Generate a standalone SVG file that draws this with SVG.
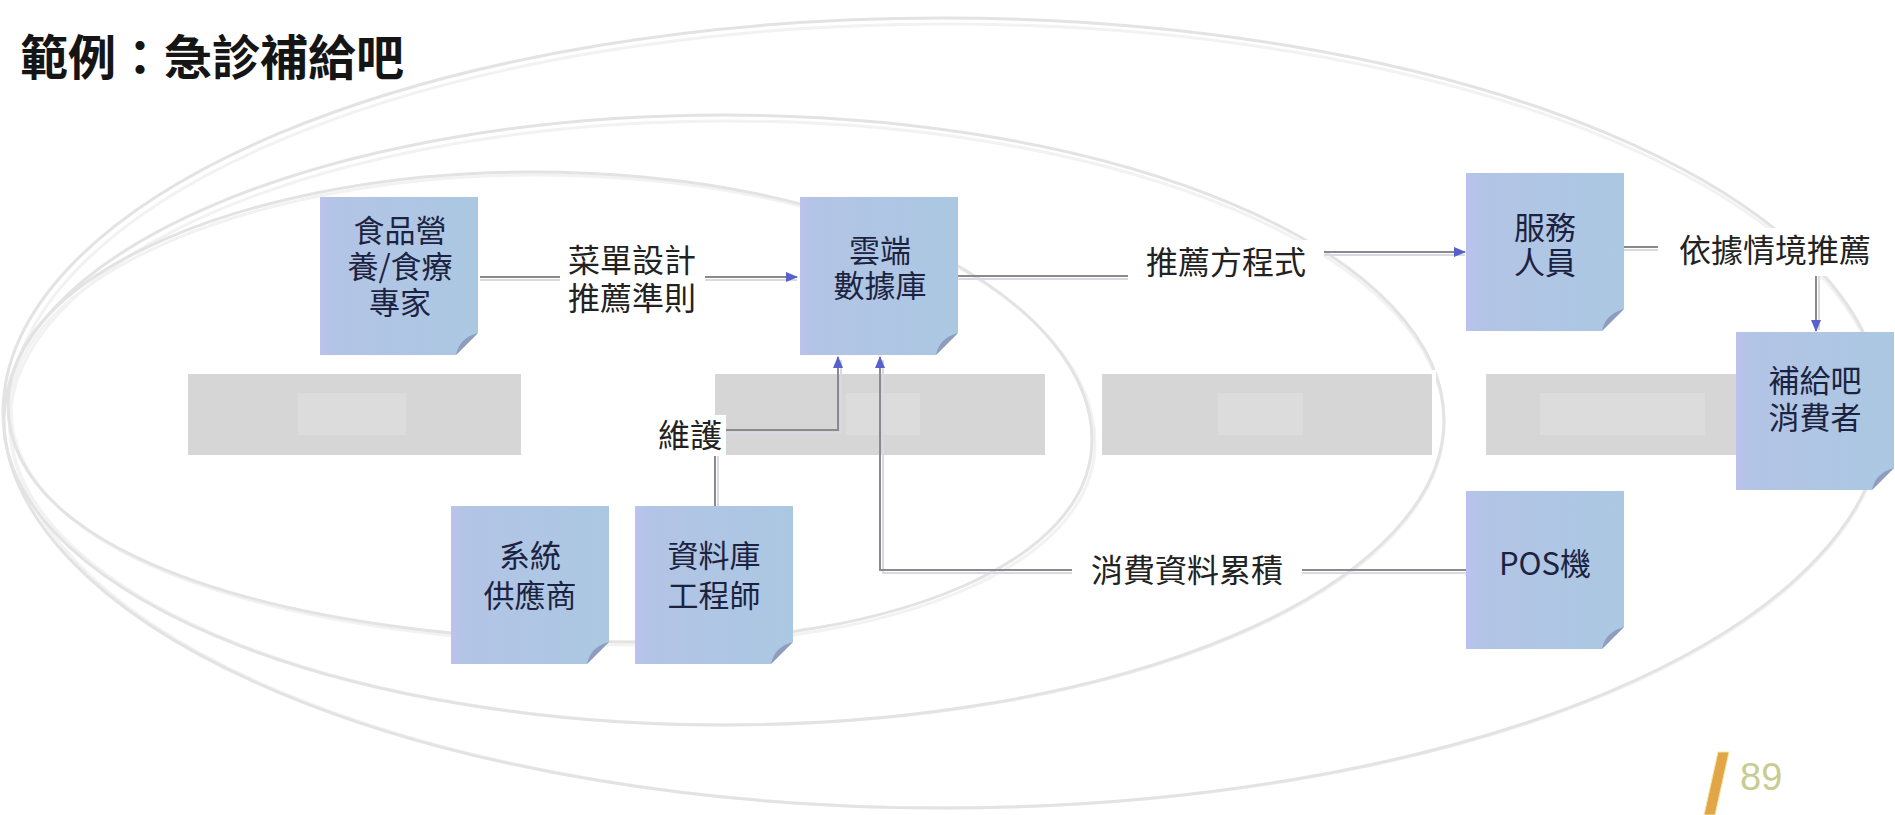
<svg xmlns="http://www.w3.org/2000/svg" width="1895" height="815" viewBox="0 0 1895 815">
<style>
.ell{fill:none;stroke:#e3e3e3;stroke-width:3}
.ellw{fill:none;stroke:#f2f2f2;stroke-width:3}
.bar{fill:#d6d6d6;stroke:#ffffff;stroke-width:4}
.barTxt{fill:#dcdcdc}
.note{fill:url(#ng)}
.fold{fill:#8f9cc0}
.bt{font-family:"Noto Sans CJK TC","Noto Sans CJK SC",sans-serif;font-size:31px;fill:#1c2340;text-anchor:middle}
.lt{font-family:"Noto Sans CJK TC","Noto Sans CJK SC",sans-serif;font-size:32px;fill:#222;text-anchor:middle}
.lbg{fill:#ffffff}
.ln{fill:none;stroke:#8a8a8a;stroke-width:2}
.lns{fill:none;stroke:#d9d9e2;stroke-width:2}
.title{font-family:"Noto Sans CJK TC","Noto Sans CJK SC",sans-serif;font-size:48px;font-weight:bold;fill:#151515}
.pg{font-family:"Liberation Sans",sans-serif;font-size:38px;fill:#c9cc92}
</style>
<defs>
<linearGradient id="ng" x1="0" y1="0" x2="1" y2="0">
<stop offset="0" stop-color="#bcc2ee"/>
<stop offset="0.08" stop-color="#b3c4e6"/>
<stop offset="1" stop-color="#abc8e2"/>
</linearGradient>
<marker id="arr" markerWidth="12" markerHeight="12" refX="11" refY="6" orient="auto" markerUnits="userSpaceOnUse">
<path d="M0,1 L12,6 L0,11 z" fill="#5860cc"/>
</marker>
</defs>
<rect width="1895" height="815" fill="#ffffff"/>

<g id="ellipses">
<ellipse class="ellw" cx="946" cy="416" rx="937" ry="392"/>
<ellipse class="ell" cx="943" cy="413" rx="940" ry="395"/>
<ellipse class="ellw" cx="727" cy="423" rx="717" ry="302"/>
<ellipse class="ell" cx="724" cy="420" rx="720" ry="305"/>
<path class="ellw" transform="translate(3,3)" d="M8,405 C8,270 260,172 530,172 C880,172 1092,310 1092,440 C1092,560 900,642 640,642 C300,642 8,560 8,405 Z"/>
<path class="ell" d="M8,405 C8,270 260,172 530,172 C880,172 1092,310 1092,440 C1092,560 900,642 640,642 C300,642 8,560 8,405 Z"/>
</g>

<g id="bars">
<rect class="bar" x="186" y="372" width="337" height="85"/>
<rect class="barTxt" x="298" y="393" width="108" height="42"/>
<rect class="bar" x="713" y="372" width="334" height="85"/>
<rect class="barTxt" x="846" y="393" width="74" height="42"/>
<rect class="bar" x="1100" y="372" width="334" height="85"/>
<rect class="barTxt" x="1218" y="393" width="85" height="42"/>
<rect class="bar" x="1484" y="372" width="270" height="85"/>
<rect class="barTxt" x="1540" y="393" width="165" height="42"/>
</g>

<g id="connectors">
<path class="lns" d="M480,280 H797"/>
<path class="ln" d="M480,277 H797" marker-end="url(#arr)"/>
<path class="lns" d="M958,279 H1229 V255 H1465"/>
<path class="ln" d="M958,276 H1226 V252 H1465" marker-end="url(#arr)"/>
<path class="lns" d="M1623,250 H1819 V330"/>
<path class="ln" d="M1623,247 H1816 V331" marker-end="url(#arr)"/>
<path class="lns" d="M718,507 V433 H841 V360"/>
<path class="ln" d="M715,507 V430 H838 V357" marker-end="url(#arr)"/>
<path class="lns" d="M1466,573 H883 V360"/>
<path class="ln" d="M1466,570 H880 V357" marker-end="url(#arr)"/>
<rect class="lbg" x="560" y="238" width="145" height="82"/>
<text class="lt" x="632" y="272">菜單設計<tspan x="632" dy="38">推薦準則</tspan></text>
<rect class="lbg" x="1128" y="240" width="196" height="44"/>
<text class="lt" x="1226" y="274">推薦方程式</text>
<rect class="lbg" x="1658" y="228" width="226" height="48"/>
<text class="lt" x="1775" y="262">依據情境推薦</text>
<rect class="lbg" x="654" y="415" width="72" height="41"/>
<text class="lt" x="690" y="447">維護</text>
<rect class="lbg" x="1072" y="548" width="230" height="44"/>
<text class="lt" x="1187" y="582">消費資料累積</text>
</g>

<g id="title">
<text class="title" x="20" y="75">範例：急診補給吧</text>
</g>

<g id="node-expert">
<path class="note" d="M320,197 h158 v136 l-22,22 h-136 z"/>
<path class="fold" d="M478,333 L456,355 Q459,338 478,333 z"/>
<text class="bt" x="400" y="242">食品營<tspan x="400" dy="36">養/食療</tspan><tspan x="400" dy="36">專家</tspan></text>
</g>

<g id="node-cloud">
<path class="note" d="M800,197 h158 v136 l-22,22 h-136 z"/>
<path class="fold" d="M958,333 L936,355 Q939,338 958,333 z"/>
<text class="bt" x="880" y="262">雲端<tspan x="880" dy="35">數據庫</tspan></text>
</g>

<g id="node-staff">
<path class="note" d="M1466,173 h158 v136 l-22,22 h-136 z"/>
<path class="fold" d="M1624,309 L1602,331 Q1605,314 1624,309 z"/>
<text class="bt" x="1545" y="239">服務<tspan x="1545" dy="35">人員</tspan></text>
</g>

<g id="node-consumer">
<path class="note" d="M1736,332 h158 v136 l-22,22 h-136 z"/>
<path class="fold" d="M1894,468 L1872,490 Q1875,473 1894,468 z"/>
<text class="bt" x="1815" y="392">補給吧<tspan x="1815" dy="37">消費者</tspan></text>
</g>

<g id="node-vendor">
<path class="note" d="M451,506 h158 v136 l-22,22 h-136 z"/>
<path class="fold" d="M609,642 L587,664 Q590,647 609,642 z"/>
<text class="bt" x="530" y="567">系統<tspan x="530" dy="40">供應商</tspan></text>
</g>

<g id="node-dbeng">
<path class="note" d="M635,506 h158 v136 l-22,22 h-136 z"/>
<path class="fold" d="M793,642 L771,664 Q774,647 793,642 z"/>
<text class="bt" x="714" y="567">資料庫<tspan x="714" dy="40">工程師</tspan></text>
</g>

<g id="node-pos">
<path class="note" d="M1466,491 h158 v136 l-22,22 h-136 z"/>
<path class="fold" d="M1624,627 L1602,649 Q1605,632 1624,627 z"/>
<text class="bt" x="1545" y="575">POS機</text>
</g>

<g id="page">
<polygon points="1718,752 1729,752 1715,815 1704,815" fill="#e2a548" stroke="#f3e6a0" stroke-width="1"/>
<text class="pg" x="1740" y="790">89</text>
</g>
</svg>
